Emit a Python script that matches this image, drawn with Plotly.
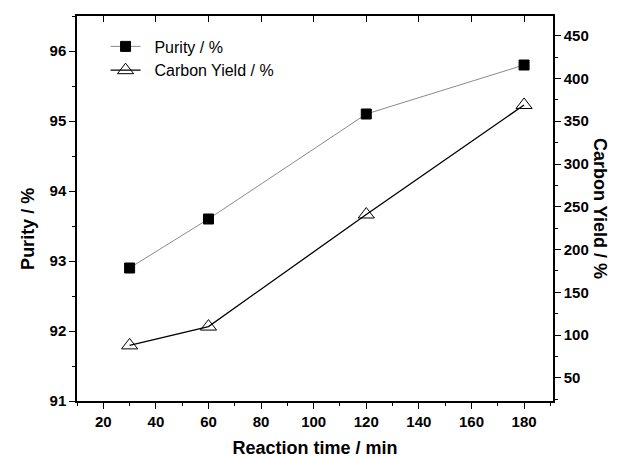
import plotly.graph_objects as go

time_min = [30, 60, 120, 180]
purity = [92.9, 93.6, 95.1, 95.8]
carbon_yield = [88, 110, 241, 369]

font_b = "Liberation Sans"

fig = go.Figure()
fig.add_trace(go.Scatter(
    x=time_min, y=purity, name="  Purity / %", mode="lines+markers",
    line=dict(color="#8a8a8a", width=1),
    marker=dict(symbol="square", size=10, color="black", line=dict(color="black", width=1)),
    xaxis="x", yaxis="y"))
fig.add_trace(go.Scatter(
    x=time_min, y=carbon_yield, name="  Carbon Yield / %", mode="lines+markers",
    line=dict(color="black", width=1.3),
    marker=dict(symbol="triangle-up-open", size=14, color="black", line=dict(color="black", width=1)),
    xaxis="x", yaxis="y2"))
# invisible trace to activate the top mirror axis
fig.add_trace(go.Scatter(x=[time_min[0]], y=[purity[0]], xaxis="x2", yaxis="y",
                         mode="markers", marker=dict(opacity=0), showlegend=False, hoverinfo="skip"))

tickfont = dict(family=font_b, size=15, color="black", weight="bold")
titlefont = dict(family=font_b, size=18, color="black", weight="bold")

fig.update_layout(
    width=627, height=458,
    margin=dict(l=77, r=74, t=16, b=57),
    plot_bgcolor="white", paper_bgcolor="white",
    showlegend=True,
    legend=dict(x=0.06, y=0.965, xanchor="left", yanchor="top",
                font=dict(family=font_b, size=16, color="black"),
                bgcolor="rgba(0,0,0,0)", tracegroupgap=0, itemwidth=30),
    xaxis=dict(range=[10, 191], tickvals=[20, 40, 60, 80, 100, 120, 140, 160, 180],
               ticks="outside", ticklen=6, tickwidth=1.2, tickcolor="black",
               minor=dict(dtick=10, tick0=0, ticks="outside", ticklen=3, tickcolor="black"),
               showline=True, linecolor="black", linewidth=1.5, showgrid=False, zeroline=False,
               tickfont=tickfont, automargin=False,
               title=dict(text="Reaction time / min", font=titlefont, standoff=14)),
    xaxis2=dict(range=[10, 191], overlaying="x", side="top", matches="x",
                tickvals=[20, 40, 60, 80, 100, 120, 140, 160, 180],
                ticks="inside", ticklen=6, tickcolor="black", showticklabels=False,
                showline=True, linecolor="black", linewidth=1.5, showgrid=False, zeroline=False),
    yaxis=dict(range=[91, 96.5], tickvals=[91, 92, 93, 94, 95, 96],
               ticks="outside", ticklen=6, tickwidth=1.2, tickcolor="black",
               minor=dict(dtick=0.5, tick0=91, ticks="outside", ticklen=3, tickcolor="black"),
               showline=True, linecolor="black", linewidth=1.5, showgrid=False, zeroline=False,
               tickfont=tickfont, automargin=False),
    yaxis2=dict(range=[23, 473], overlaying="y", side="right",
                tickvals=[50, 100, 150, 200, 250, 300, 350, 400, 450],
                ticks="outside", ticklen=6, tickwidth=1.2, tickcolor="black",
                minor=dict(dtick=25, tick0=0, ticks="outside", ticklen=3, tickcolor="black"),
                showline=True, linecolor="black", linewidth=1.5, showgrid=False, zeroline=False,
                tickfont=tickfont, automargin=False),
    annotations=[
        dict(text="Carbon Yield / %", textangle=90, xref="paper", yref="paper",
             x=1.1, y=0.5, xanchor="center", yanchor="middle", showarrow=False,
             font=titlefont),
        dict(text="Purity / %", textangle=-90, xref="paper", yref="paper",
             x=-0.103, y=0.447, xanchor="center", yanchor="middle", showarrow=False,
             font=titlefont),
    ],
)

fig.write_html("out.html")
